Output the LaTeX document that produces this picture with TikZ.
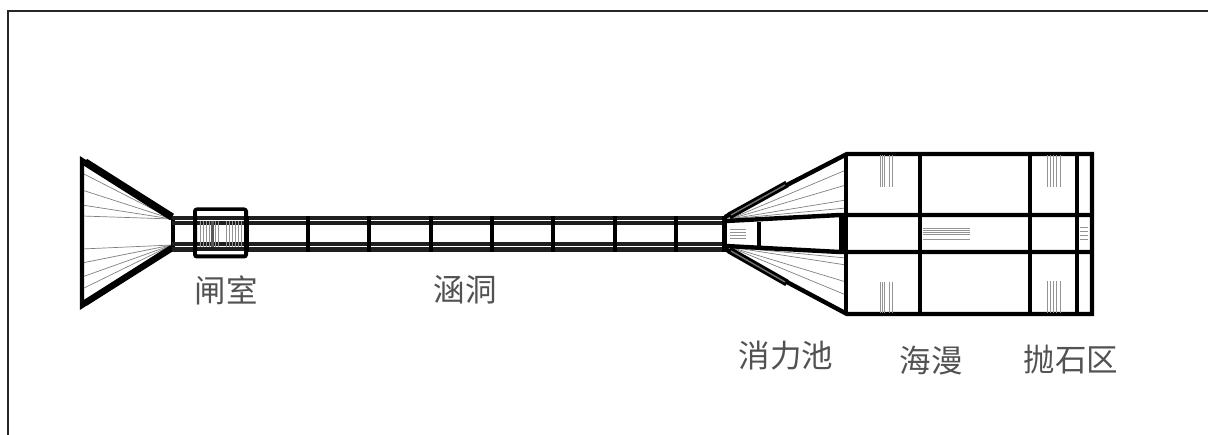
\documentclass[tikz,border=0pt]{standalone}
\usepackage{fontspec}
\newfontfamily\cjk{Noto Sans CJK SC}
\usepackage{tikz}
\begin{document}
\begin{tikzpicture}[x=1pt,y=-1pt,
    wall/.style={line width=4.4pt,black},
    band/.style={line width=4.6pt,black!88},
    fan/.style={line width=0.7pt,black!50},
    hatch/.style={line width=1pt,black!42},
    label/.style={inner sep=0pt,text=black!68,font=\cjk\fontsize{31.5}{32}\selectfont}]
  \useasboundingbox (0,0) rectangle (1208,435);
  \draw[line width=1.6pt,black!85] (8,435) -- (8,11) -- (1208,11);
  \foreach \y in {173,190,205,216} \draw[fan] (82,\y) -- (172,219);
  \foreach \y in {249,263,277,289} \draw[fan] (82,\y) -- (172,245);
  \foreach \y in {170,185,200,208} \draw[fan] (846,\y) -- (730,219);
  \foreach \y in {258,265,282,295} \draw[fan] (846,\y) -- (730,247);
  \draw[wall,line join=miter] (172,218) -- (82,160) -- (82,306) -- (172,248);
  \draw[line width=7.5pt] (172,217) -- (85,162);
  \draw[line width=6.5pt] (172,248) -- (85,303);
  \draw[wall] (173,219) -- (173,250);
  \foreach \y in {218,223,244,249.5} \draw[band] (172,\y) -- (724,\y);
  \foreach \x in {308,369,431,492,553,615,676} \draw[line width=4pt] (\x,216) -- (\x,252);
  \draw[line width=5pt] (724,216) -- (724,252);
  \fill[white] (196,226) rectangle (244,242);
  \foreach \x in {200,203,206,209,215,218,226,229,232,235,238,241} \draw[hatch] (\x,221) -- (\x,247);
  \draw[line width=3pt,black!65] (212,221) -- (212,247);
  \draw[line width=4pt,rounded corners=2pt] (195,209.5) rectangle (246,256.5);
  \fill[white] (197,211.5) rectangle (244,215);
  \fill[white] (197,251.5) rectangle (244,254.5);
  \draw[line width=5pt] (246,216) -- (246,252);
  \draw[wall] (725,217) -- (847,154) -- (1092,154) -- (1092,314) -- (847,314) -- (725,249);
  \draw[line width=7pt] (729,216) -- (787,184);
  \draw[line width=1.4pt,black!55] (731,215) -- (785,185);
  \draw[line width=7pt] (729,250) -- (787,283);
  \draw[line width=1.4pt,black!55] (731,251) -- (785,282);
  \draw[wall] (726,221) -- (840,215) -- (1092,215);
  \draw[wall] (726,246) -- (840,252) -- (1092,252);
  \draw[wall] (759,222) -- (759,247);
  \draw[line width=5pt] (841,215) -- (841,252);
  \foreach \x in {846,920,1030,1077} \draw[wall] (\x,154) -- (\x,314);
  \foreach \y in {230,233,236,239} \draw[hatch] (730,\y) -- (746,\y);
  \foreach \x/\u/\v in {880/155/187,882/155/187,884/155/187,889/155/187,892/155/187,880/282/313,882/282/313,884/282/313,889/282/313,892/282/313,1047/155/187,1050/155/187,1053/155/187,1056/155/187,1060/155/187,1047/281/313,1050/281/313,1053/281/313,1056/281/313,1060/281/313} \draw[hatch] (\x,\u) -- (\x,\v);
  \foreach \y in {229,231,233,235,240} \draw[hatch] (923,\y) -- (970,\y);
  \foreach \y in {228,232,236,240} \draw[hatch] (1080,\y) -- (1088,\y);
  \node (chamber) [label] at (226,290) {闸室};
  \node (culvert) [label] at (465,290) {涵洞};
  \node (basin) [label] at (786,356) {消力池};
  \node (apron) [label] at (931,361) {海漫};
  \node (riprap) [label] at (1071,360) {抛石区};
\end{tikzpicture}
\end{document}
